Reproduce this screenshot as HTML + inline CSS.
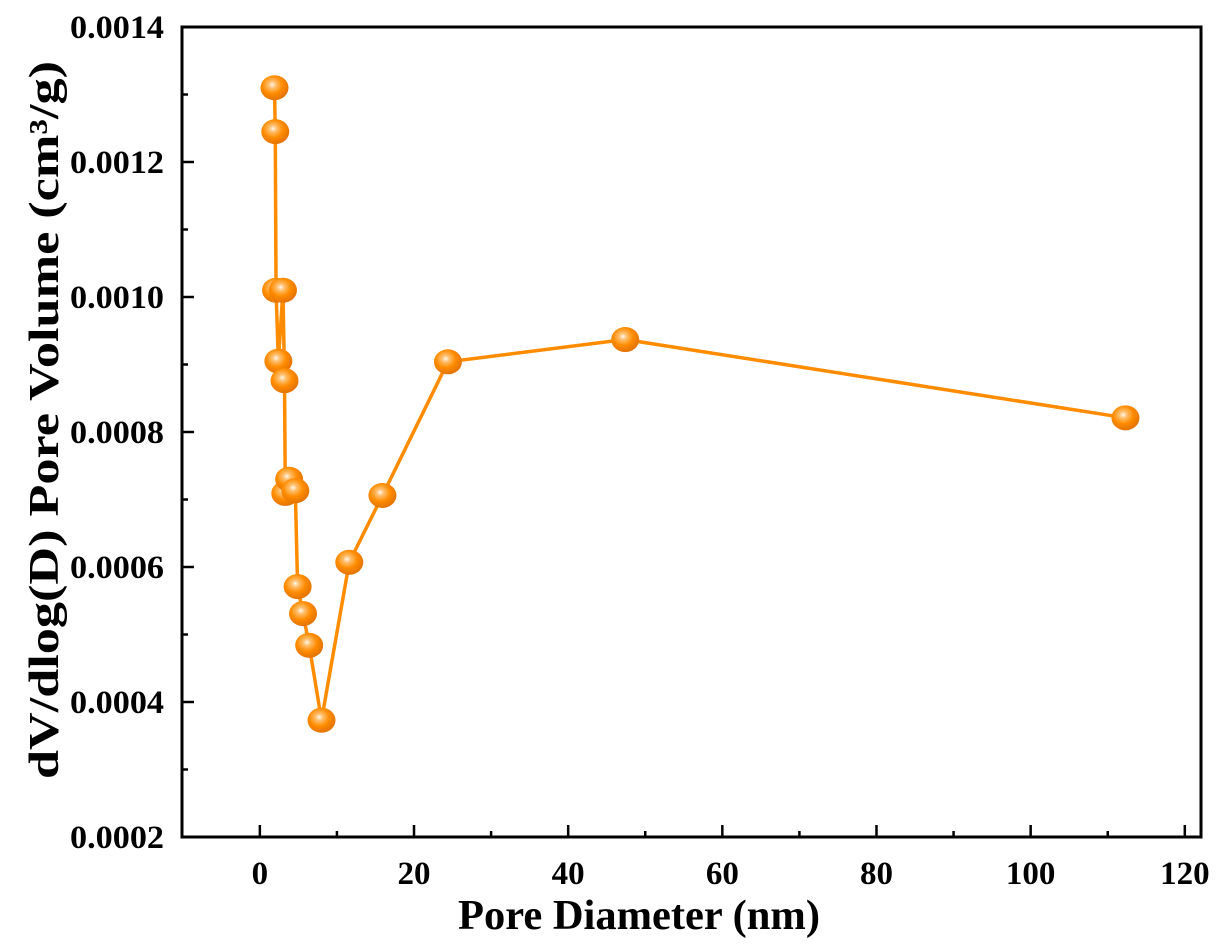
<!DOCTYPE html>
<html><head><meta charset="utf-8"><style>
html,body{margin:0;padding:0;background:#fff;}
svg{display:block;font-family:"Liberation Serif",serif;font-weight:bold;}
</style></head><body>
<svg id="chart" width="1221" height="950" viewBox="0 0 1221 950">
<defs>
<radialGradient id="ball" cx="0.42" cy="0.38" r="0.65">
<stop offset="0" stop-color="#fff8ee"/>
<stop offset="0.2" stop-color="#ffc070"/>
<stop offset="0.55" stop-color="#ff8c00"/>
<stop offset="1" stop-color="#e07000"/>
</radialGradient>
</defs>
<g id="axes"></g>
<g id="series"></g>
</svg>
<script>
const diam = [1.9,2.0,2.1,2.4,3.0,3.2,3.3,3.8,4.6,4.9,5.6,6.4,8.0,11.6,15.9,24.4,47.4,112.3];
const vol = [0.00131,0.001245,0.00101,0.000905,0.00101,0.000876,0.000709,0.00073,0.000713,0.000571,0.000531,0.000484,0.000373,0.000607,0.000706,0.000904,0.000937,0.000821];
const xTicks = [0,20,40,60,80,100,120];
const yTicks = [0.0002,0.0004,0.0006,0.0008,0.0010,0.0012,0.0014];
const yLabels = ["0.0002","0.0004","0.0006","0.0008","0.0010","0.0012","0.0014"];

const L=182,R=1201,T=27,B=837;
const xMin=-10.1,xMax=122.1,yMin=0.0002,yMax=0.0014;
const sx=v=>L+(v-xMin)/(xMax-xMin)*(R-L);
const sy=v=>B-(v-yMin)/(yMax-yMin)*(B-T);
const NS="http://www.w3.org/2000/svg";
function mk(tag,attrs,parent){const e=document.createElementNS(NS,tag);for(const k in attrs)e.setAttribute(k,attrs[k]);parent.appendChild(e);return e;}
const ax=document.getElementById('axes');
const frame=mk('rect',{x:L,y:T,width:R-L,height:B-T,fill:'none',stroke:'#000','stroke-width':3},ax);


xTicks.forEach((t,i)=>{
  const x=sx(t);
  const tk=mk('line',{x1:x,x2:x,y1:B,y2:B-12,stroke:'#000','stroke-width':2.5},ax);
  
  
  if(i<xTicks.length-1){const m=sx(t+10);mk('line',{x1:m,x2:m,y1:B,y2:B-6,stroke:'#000','stroke-width':2.5},ax);}
  const lb=mk('text',{x:x,y:B+47,'text-anchor':'middle','font-size':33},ax);
  lb.textContent=t;
  
  
});
yTicks.forEach((t,i)=>{
  const y=sy(t);
  const tk=mk('line',{x1:L,x2:L+12,y1:y,y2:y,stroke:'#000','stroke-width':2.5},ax);
  
  
  if(i<yTicks.length-1){const m=sy(t+0.0001);mk('line',{x1:L,x2:L+6,y1:m,y2:m,stroke:'#000','stroke-width':2.5},ax);}
  const lb=mk('text',{x:164,y:y+11,'text-anchor':'end','font-size':33,textLength:94,lengthAdjust:'spacingAndGlyphs'},ax);
  lb.textContent=yLabels[i];
  
  
});
const xt=mk('text',{x:639,y:929,'text-anchor':'middle','font-size':42,textLength:362,lengthAdjust:'spacingAndGlyphs'},ax);
xt.textContent='Pore Diameter (nm)';


const yt=mk('text',{x:0,y:0,'text-anchor':'middle','font-size':42,textLength:718,lengthAdjust:'spacingAndGlyphs',transform:`translate(58,420) rotate(-90)`},ax);
yt.textContent='dV/dlog(D) Pore Volume (cm³/g)';



const sg=document.getElementById('series');
const pts=diam.map((d,i)=>sx(d)+','+sy(vol[i])).join(' ');
const line=mk('polyline',{points:pts,fill:'none',stroke:'#ff8c00','stroke-width':3.5,'stroke-linejoin':'round'},sg);


diam.forEach((d,i)=>{
  const c=mk('ellipse',{cx:sx(d),cy:sy(vol[i]),rx:14,ry:12.5,fill:'url(#ball)'},sg);
  
  
});
</script>
</body></html>
